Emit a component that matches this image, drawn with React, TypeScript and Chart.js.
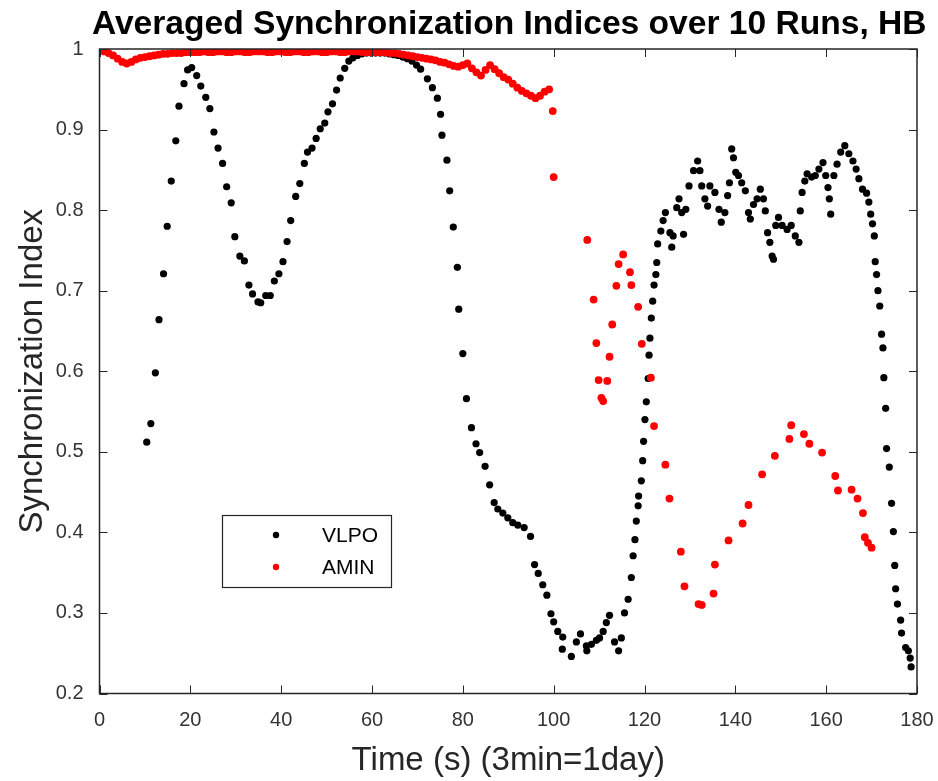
import React, { useEffect, useRef } from "react";
import { Chart, registerables } from "chart.js";

Chart.register(...registerables);

const chartTitle = "Averaged Synchronization Indices over 10 Runs, HB";
const xAxisTitle = "Time (s) (3min=1day)";
const yAxisTitle = "Synchronization Index";
const seriesNames = ["VLPO", "AMIN"];
const seriesColors = ["#000000", "#ff0000"];

const xTickValues = [0, 20, 40, 60, 80, 100, 120, 140, 160, 180];
const xTickLabels = ["0", "20", "40", "60", "80", "100", "120", "140", "160", "180"];
const yTickValues = [0.2, 0.3, 0.4, 0.5, 0.6, 0.7, 0.8, 0.9, 1];
const yTickLabels = ["0.2", "0.3", "0.4", "0.5", "0.6", "0.7", "0.8", "0.9", "1"];

const vlpoTime = [
  10.4, 11.3, 12.3, 13.1, 14.1, 14.9, 15.8, 16.8, 17.5, 18.6, 19.4, 20.3, 21.4, 22.3, 23.4, 24.3,
  25.2, 26.1, 27.1, 28.0, 29.0, 29.8, 30.9, 31.9, 32.9, 33.7, 34.9, 35.5, 36.6, 37.6, 38.5, 39.5,
  40.4, 41.3, 42.1, 43.2, 44.1, 45.1, 45.8, 46.8, 47.7, 48.6, 49.6, 50.3, 51.3, 52.2, 53.0, 54.0,
  54.9, 55.8, 56.8, 57.8, 58.8, 59.8, 60.8, 61.8, 62.8, 63.8, 64.8, 65.8, 66.8, 67.8, 68.8, 69.8,
  70.7, 72.2, 73.3, 74.4, 75.1, 75.4, 76.5, 77.1, 77.9, 78.8, 79.1, 80.0, 80.8, 81.9, 82.9, 83.7,
  84.9, 85.9, 86.9, 87.7, 88.8, 89.9, 91.0, 92.1, 93.5, 94.9, 95.8, 96.6, 97.6, 98.5, 99.4, 100.0,
  100.9, 102.0, 101.9, 103.9, 105.0, 105.9, 107.2, 107.3, 108.3, 109.4, 110.1, 110.9, 111.6, 112.3, 113.4, 114.3,
  114.9, 115.6, 116.4, 117.1, 117.5, 117.9, 118.2, 118.6, 118.7, 119.3, 119.6, 119.8, 120.1, 120.4, 120.8, 121.0,
  121.2, 121.5, 121.8, 122.1, 122.5, 122.7, 122.9, 123.6, 124.1, 124.6, 125.6, 126.0, 126.3, 127.1, 127.6, 128.2,
  128.6, 129.1, 129.8, 130.8, 131.7, 132.2, 132.6, 133.3, 133.9, 134.4, 135.5, 136.4, 136.9, 137.7, 138.3, 138.7,
  139.2, 139.6, 140.1, 140.7, 141.4, 142.2, 142.9, 143.3, 144.0, 144.8, 145.5, 146.2, 146.6, 147.1, 147.6, 148.1,
  148.4, 148.9, 149.5, 150.3, 151.4, 152.3, 153.2, 154.0, 154.3, 154.7, 155.3, 155.8, 156.8, 157.6, 158.4, 159.3,
  159.9, 160.4, 160.7, 161.0, 161.7, 162.4, 163.2, 164.1, 165.0, 165.9, 166.6, 167.2, 168.0, 168.9, 169.4, 169.8,
  170.2, 170.6, 170.8, 171.1, 171.4, 171.8, 172.2, 172.5, 172.7, 173.1, 173.3, 173.9, 174.4, 174.8, 175.1, 175.3,
  175.7, 176.4, 176.6, 177.5, 178.1, 178.5, 178.7
];
const vlpoIndex = [
  0.512, 0.535, 0.598, 0.664, 0.721, 0.780, 0.836, 0.886, 0.929, 0.957, 0.974, 0.977, 0.967, 0.954, 0.940, 0.926,
  0.897, 0.877, 0.858, 0.829, 0.809, 0.767, 0.743, 0.737, 0.707, 0.696, 0.686, 0.685, 0.694, 0.694, 0.712, 0.721,
  0.736, 0.761, 0.787, 0.817, 0.833, 0.858, 0.872, 0.877, 0.889, 0.901, 0.908, 0.922, 0.932, 0.949, 0.964, 0.976,
  0.985, 0.989, 0.992, 0.994, 0.995, 0.995, 0.995, 0.995, 0.995, 0.994, 0.993, 0.992, 0.990, 0.988, 0.985, 0.980,
  0.975, 0.963, 0.952, 0.939, 0.919, 0.893, 0.862, 0.824, 0.779, 0.729, 0.677, 0.622, 0.566, 0.530, 0.510, 0.499,
  0.482, 0.459, 0.437, 0.429, 0.424, 0.418, 0.412, 0.409, 0.406, 0.395, 0.360, 0.349, 0.335, 0.322, 0.299, 0.289,
  0.277, 0.270, 0.255, 0.246, 0.264, 0.274, 0.259, 0.253, 0.261, 0.266, 0.269, 0.277, 0.288, 0.297, 0.264, 0.253,
  0.269, 0.300, 0.317, 0.344, 0.371, 0.391, 0.414, 0.433, 0.445, 0.464, 0.489, 0.513, 0.540, 0.562, 0.591, 0.620,
  0.641, 0.666, 0.687, 0.707, 0.720, 0.735, 0.758, 0.774, 0.787, 0.797, 0.772, 0.754, 0.768, 0.803, 0.814, 0.797,
  0.770, 0.801, 0.830, 0.849, 0.861, 0.849, 0.830, 0.814, 0.805, 0.830, 0.822, 0.801, 0.785, 0.797, 0.818, 0.834,
  0.876, 0.865, 0.847, 0.843, 0.834, 0.824, 0.797, 0.789, 0.807, 0.814, 0.826, 0.814, 0.799, 0.772, 0.760, 0.743,
  0.739, 0.781, 0.791, 0.781, 0.776, 0.781, 0.768, 0.760, 0.799, 0.822, 0.836, 0.845, 0.841, 0.843, 0.851, 0.859,
  0.843, 0.828, 0.814, 0.795, 0.843, 0.857, 0.872, 0.880, 0.870, 0.861, 0.851, 0.839, 0.826, 0.821, 0.810, 0.795,
  0.783, 0.768, 0.736, 0.720, 0.700, 0.681, 0.646, 0.629, 0.592, 0.554, 0.504, 0.481, 0.436, 0.401, 0.359, 0.330,
  0.311, 0.291, 0.275, 0.257, 0.253, 0.244, 0.233
];

const aminTime = [
  1, 2, 3, 4, 5, 6, 7, 8, 9, 10, 11, 12, 13, 14, 15, 16, 17, 18, 19, 20,
  21, 22, 23, 24, 25, 26, 27, 28, 29, 30, 31, 32, 33, 34, 35, 36, 37, 38, 39, 40,
  41, 42, 43, 44, 45, 46, 47, 48, 49, 50, 51, 52, 53, 54, 55, 56, 57, 58, 59, 60,
  61, 62, 63, 64, 65, 66, 67, 68, 69, 70, 71, 72, 73, 74, 75, 76, 77, 78, 79, 80,
  81, 82, 83, 84, 85, 86, 87, 88, 89, 90, 91, 92, 93, 94, 95, 96, 97, 98, 99,
  99.8, 100.0, 107.4, 108.8, 109.4, 109.9, 110.5, 110.9, 111.8, 112.3, 112.9, 113.8, 114.3, 115.3, 116.8, 117.1,
  118.6, 119.4, 121.4, 122.1, 124.6, 125.5, 128.0, 128.8, 131.9, 132.6, 135.2, 135.5, 138.5, 141.6, 142.9, 145.9,
  148.7, 151.9, 152.3, 155.1, 156.3, 159.1, 162.0, 162.6, 165.6, 166.9, 168.1, 168.5, 169.2, 170.0
];
const aminIndex = [
  0.997, 0.995, 0.992, 0.988, 0.984, 0.982, 0.984, 0.987, 0.989, 0.990, 0.991, 0.992, 0.993, 0.994, 0.994, 0.995, 0.995, 0.995, 0.996, 0.996,
  0.996, 0.996, 0.997, 0.996, 0.996, 0.997, 0.997, 0.996, 0.996, 0.997, 0.997, 0.996, 0.996, 0.997, 0.997, 0.997, 0.996, 0.996, 0.997, 0.997,
  0.996, 0.996, 0.997, 0.997, 0.996, 0.996, 0.997, 0.997, 0.996, 0.996, 0.997, 0.997, 0.996, 0.996, 0.997, 0.997, 0.997, 0.996, 0.996, 0.996,
  0.996, 0.996, 0.996, 0.995, 0.995, 0.994, 0.993, 0.992, 0.991, 0.990, 0.989, 0.988, 0.987, 0.986, 0.984, 0.983, 0.981, 0.979, 0.978, 0.980,
  0.982, 0.976, 0.971, 0.967, 0.974, 0.980, 0.975, 0.970, 0.965, 0.962, 0.957, 0.952, 0.948, 0.945, 0.942, 0.939, 0.942, 0.947, 0.950,
  0.923, 0.841, 0.763, 0.689, 0.635, 0.589, 0.567, 0.563, 0.588, 0.618, 0.658, 0.706, 0.733, 0.745, 0.723, 0.707,
  0.680, 0.634, 0.592, 0.532, 0.484, 0.442, 0.376, 0.333, 0.311, 0.310, 0.324, 0.360, 0.390, 0.411, 0.434, 0.472,
  0.495, 0.516, 0.533, 0.522, 0.510, 0.499, 0.470, 0.452, 0.453, 0.442, 0.424, 0.394, 0.387, 0.381
];

const FONT = "'Liberation Sans', Arial, Helvetica, sans-serif";
const AXIS_COLOR = "#262626";

const frame = {
  id: "matlabFrame",
  afterDatasetsDraw(chart: any) {
    const { ctx, chartArea } = chart;
    const { left, right, top, bottom } = chartArea;
    const xs = chart.scales.x;
    const ys = chart.scales.y;
    const tl = 8;
    ctx.save();
    ctx.strokeStyle = AXIS_COLOR;
    ctx.lineWidth = 1.5;
    ctx.strokeRect(left, top, right - left, bottom - top);
    ctx.lineWidth = 1;
    ctx.beginPath();
    for (const t of xs.ticks) {
      const px = Math.round(xs.getPixelForValue(t.value)) + 0.5;
      ctx.moveTo(px, bottom);
      ctx.lineTo(px, bottom - tl);
      ctx.moveTo(px, top);
      ctx.lineTo(px, top + tl);
    }
    for (const t of ys.ticks) {
      const py = Math.round(ys.getPixelForValue(t.value)) + 0.5;
      ctx.moveTo(left, py);
      ctx.lineTo(left + tl, py);
      ctx.moveTo(right, py);
      ctx.lineTo(right - tl, py);
    }
    ctx.stroke();

    // title
    ctx.fillStyle = "#000";
    ctx.font = `bold 33.6px ${FONT}`;
    ctx.textAlign = "center";
    ctx.textBaseline = "alphabetic";
    ctx.fillText(chartTitle, (left + right) / 2 + 1, 34);

    // legend
    const bx = 222.5, by = 515.5, bw = 169, bh = 72;
    ctx.fillStyle = "#fff";
    ctx.fillRect(bx, by, bw, bh);
    ctx.strokeStyle = AXIS_COLOR;
    ctx.lineWidth = 1.2;
    ctx.strokeRect(bx, by, bw, bh);
    ctx.font = `21px ${FONT}`;
    ctx.textAlign = "left";
    ctx.textBaseline = "middle";
    const rows = [535, 567];
    chart.data.datasets.forEach((ds: any, i: number) => {
      ctx.beginPath();
      ctx.fillStyle = ds.backgroundColor;
      ctx.arc(276, rows[i], 3.2, 0, Math.PI * 2);
      ctx.fill();
      ctx.fillStyle = "#000";
      ctx.fillText(ds.label, 322, rows[i] + 1);
    });
    ctx.restore();
  },
};

export default function App() {
  const ref = useRef<HTMLCanvasElement | null>(null);
  useEffect(() => {
    if (!ref.current) return;
    const chart = new Chart(ref.current, {
      type: "scatter",
      data: {
        datasets: [
          {
            label: seriesNames[0],
            data: vlpoTime.map((t, i) => ({ x: t, y: vlpoIndex[i] })),
            backgroundColor: seriesColors[0],
            borderWidth: 0,
            pointRadius: 3.6,
            order: 2,
          },
          {
            label: seriesNames[1],
            data: aminTime.map((t, i) => ({ x: t, y: aminIndex[i] })),
            backgroundColor: seriesColors[1],
            borderWidth: 0,
            pointRadius: 3.9,
            order: 1,
          },
        ],
      },
      options: {
        animation: false,
        responsive: false,
        maintainAspectRatio: false,
        layout: { padding: { top: 49, right: 21, left: 0, bottom: 0 } },
        plugins: {
          legend: { display: false },
          title: { display: false },
          tooltip: { enabled: false },
        },
        scales: {
          x: {
            type: "linear",
            min: 0,
            max: 180,
            afterBuildTicks: (s: any) => {
              s.ticks = xTickValues.map((v) => ({ value: v }));
            },
            afterFit: (s: any) => {
              s.height = 87.5;
              s.paddingLeft = 0;
              s.paddingRight = 0;
            },
            grid: { display: false, drawTicks: false },
            border: { display: false },
            ticks: {
              autoSkip: false,
              maxRotation: 0,
              padding: 15,
              color: "#333",
              font: { family: FONT, size: 20 },
              callback: (_v: any, i: number) => xTickLabels[i],
            },
            title: {
              display: true,
              text: xAxisTitle,
              color: AXIS_COLOR,
              font: { family: FONT, size: 33 },
              padding: { top: 0, bottom: 0 },
            },
          },
          y: {
            type: "linear",
            min: 0.2,
            max: 1,
            afterBuildTicks: (s: any) => {
              s.ticks = yTickValues.map((v) => ({ value: v }));
            },
            afterFit: (s: any) => {
              s.width = 99.5;
              s.paddingTop = 0;
              s.paddingBottom = 0;
            },
            grid: { display: false, drawTicks: false },
            border: { display: false },
            ticks: {
              autoSkip: false,
              padding: 16,
              color: "#333",
              font: { family: FONT, size: 20 },
              callback: (_v: any, i: number) => yTickLabels[i],
            },
            title: {
              display: true,
              text: yAxisTitle,
              color: AXIS_COLOR,
              font: { family: FONT, size: 33 },
              padding: { top: 13, bottom: 0 },
            },
          },
        },
      },
      plugins: [frame],
    });
    return () => chart.destroy();
  }, []);
  return (
    <div style={{ position: "absolute", left: 0, top: 0, width: 938, height: 781, background: "#fff" }}>
      <canvas ref={ref} width={938} height={781} style={{ display: "block", width: 938, height: 781 }} />
    </div>
  );
}
